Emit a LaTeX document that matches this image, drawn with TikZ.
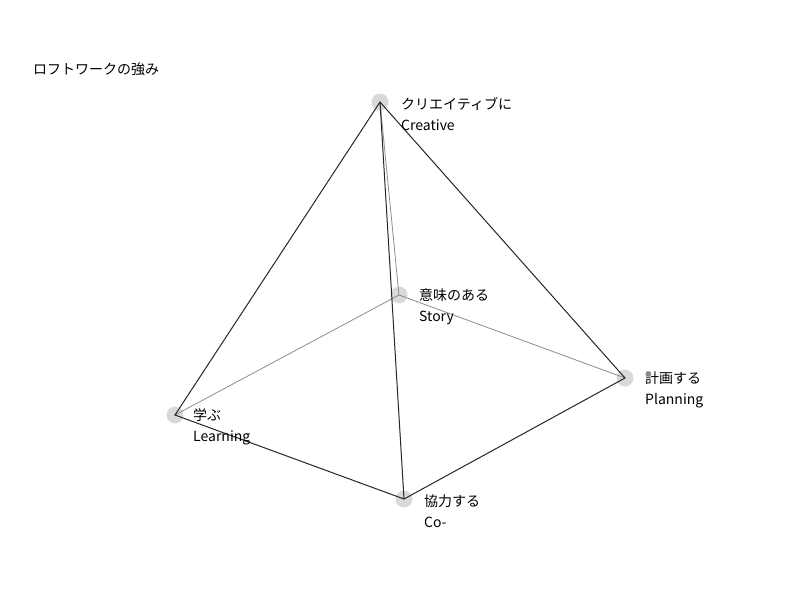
\documentclass[tikz,border=0pt]{standalone}
\usepackage{fontspec}
\setmainfont{Noto Sans CJK JP}
\begin{document}
\begin{tikzpicture}[x=1pt,y=-1pt,
  vert/.style={circle,fill=black!15,minimum size=17pt,inner sep=0pt},
  dark/.style={draw=black!85,line width=1pt},
  light/.style={draw=black!45,line width=0.8pt},
  lbl/.style={anchor=west,inner sep=0pt,align=left,font=\fontsize{14}{21}\selectfont}]
\useasboundingbox (0,0) rectangle (800,600);
\node[anchor=west,inner sep=0pt,font=\fontsize{14}{16}\selectfont] (title) at (33,69) {ロフトワークの強み};
\node[vert] (cr) at (380,102) {};
\node[vert] (st) at (399,295) {};
\node[vert] (pl) at (625,378) {};
\node[vert] (le) at (175,415) {};
\node[vert] (co) at (404,499) {};
\draw[light] (cr.center) -- (st.center);
\draw[light] (le.center) -- (st.center) -- (pl.center);
\draw[dark] (cr.center) -- (le.center) -- (co.center) -- (pl.center) -- cycle;
\draw[dark] (cr.center) -- (co.center);
\node[lbl] (lcr) at (401,114) {クリエイティブに\\Creative};
\node[lbl] (lst) at (419,307) {意味のある\\Story};
\node[lbl] (lpl) at (645,390) {計画する\\Planning};
\node[lbl] (lle) at (193,427) {学ぶ\\Learning};
\node[lbl] (lco) at (424,511) {協力する\\Co-};
\end{tikzpicture}
\end{document}
